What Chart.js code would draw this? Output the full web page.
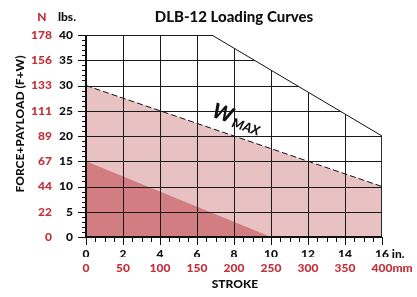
<!DOCTYPE html>
<html>
<head>
<meta charset="utf-8">
<script src="https://cdn.jsdelivr.net/npm/chart.js@4"></script>
<style>
  html, body { margin: 0; padding: 0; background: #fff; }
  #wrap { width: 417px; height: 297px; }
</style>
</head>
<body>
<div id="wrap"><canvas id="loadChart" width="417" height="297"></canvas></div>
<script>
// tick labels
const inchLabels = ['0', '2', '4', '6', '8', '10', '12', '14', '16'];
const mmLabels = ['0', '50', '100', '150', '200', '250', '300', '350', '400'];
const lbsLabels = ['0', '5', '10', '15', '20', '25', '30', '35', '40'];
const newtonLabels = ['0', '22', '44', '67', '89', '111', '133', '156', '178'];

// courbes (course en pouces, charge en lbs)
const forceX = [0, 10];
const forceY = [15, 0];
const wmaxX = [0, 16];
const wmaxY = [30, 10];
const limitX = [0, 6.8, 16, 16];
const limitY = [40, 40, 20, 0];

const RED = '#c3303a';
const INK = '#111';
const FONT = 'Lato';
const W8 = '900';

Chart.defaults.font.family = FONT;

const pts = (xs, ys) => xs.map((x, i) => ({ x: x, y: ys[i] }));

// grille limitée à l'enveloppe + axes, ticks et textes
const decorPlugin = {
  id: 'decor',
  afterDatasetsDraw(chart) {
    const ctx = chart.ctx;
    const xs = chart.scales.x, ys = chart.scales.y;
    const a = chart.chartArea;
    ctx.save();
    ctx.beginPath();
    ctx.moveTo(xs.getPixelForValue(0), ys.getPixelForValue(0));
    limitX.forEach((x, i) => ctx.lineTo(xs.getPixelForValue(x), ys.getPixelForValue(limitY[i])));
    ctx.closePath();
    ctx.clip();
    ctx.strokeStyle = '#1a1a1a';
    ctx.lineWidth = 1;
    ctx.beginPath();
    xs.ticks.forEach(t => {
      const px = Math.round(xs.getPixelForValue(t.value)) + 0.5;
      ctx.moveTo(px, a.top);
      ctx.lineTo(px, a.bottom);
    });
    ys.ticks.forEach(t => {
      const py = Math.round(ys.getPixelForValue(t.value)) + 0.5;
      ctx.moveTo(a.left, py);
      ctx.lineTo(a.right, py);
    });
    ctx.stroke();
    ctx.restore();
  },
  afterDraw(chart) {
    const ctx = chart.ctx;
    const xs = chart.scales.x, ys = chart.scales.y;
    const a = chart.chartArea;
    ctx.save();
    // axes
    ctx.strokeStyle = INK;
    ctx.lineWidth = 2;
    ctx.beginPath();
    ctx.moveTo(a.left, ys.getPixelForValue(40));
    ctx.lineTo(a.left, a.bottom);
    ctx.lineTo(xs.getPixelForValue(16), a.bottom);
    ctx.stroke();
    // petits ticks
    ctx.lineWidth = 1;
    ctx.beginPath();
    for (let v = 0; v <= 40; v++) {
      const py = Math.round(ys.getPixelForValue(v)) + 0.5;
      const len = v % 5 === 0 ? 8 : 4;
      ctx.moveTo(a.left - len, py);
      ctx.lineTo(a.left, py);
    }
    for (let v = 0; v <= 16; v += 0.5) {
      const px = Math.round(xs.getPixelForValue(v)) + 0.5;
      const len = v % 2 === 0 ? 8 : 5;
      ctx.moveTo(px, a.bottom);
      ctx.lineTo(px, a.bottom + len);
    }
    ctx.stroke();

    // titre
    ctx.textBaseline = 'middle';
    ctx.textAlign = 'center';
    ctx.fillStyle = INK;
    ctx.font = W8 + ' 15px ' + FONT;
    ctx.fillText('DLB-12 Loading Curves', (a.left + a.right) / 2, 17);

    // en-têtes d'unités
    ctx.font = W8 + ' 12px ' + FONT;
    ctx.fillStyle = RED;
    ctx.fillText('N', 42, 17);
    ctx.fillStyle = INK;
    ctx.fillText('lbs.', 67, 17);

    // suffixes sous l'axe x
    const x16 = xs.getPixelForValue(16);
    ctx.textAlign = 'left';
    ctx.fillStyle = INK;
    ctx.fillText(' in.', x16 + ctx.measureText('16').width / 2, a.bottom + 17);
    ctx.fillStyle = RED;
    ctx.fillText('mm', x16 + ctx.measureText('400').width / 2, a.bottom + 31);

    // titres d'axes
    ctx.fillStyle = INK;
    ctx.textAlign = 'center';
    ctx.fillText('STROKE', (a.left + a.right) / 2 + 1, 284);
    ctx.translate(20, 124);
    ctx.rotate(-Math.PI / 2);
    ctx.fillText('FORCE+PAYLOAD (F+W)', 0, 0);
    ctx.restore();

    // étiquette W MAX le long de la ligne pointillée
    ctx.save();
    const x0 = xs.getPixelForValue(wmaxX[0]), y0 = ys.getPixelForValue(wmaxY[0]);
    const x1 = xs.getPixelForValue(wmaxX[1]), y1 = ys.getPixelForValue(wmaxY[1]);
    const ang = Math.atan2(y1 - y0, x1 - x0);
    const ax = xs.getPixelForValue(6.55);
    const ay = y0 + (ax - x0) * (y1 - y0) / (x1 - x0);
    ctx.translate(ax, ay);
    ctx.rotate(ang);
    ctx.fillStyle = INK;
    ctx.textAlign = 'left';
    ctx.textBaseline = 'alphabetic';
    ctx.font = 'italic ' + W8 + ' 21px ' + FONT;
    ctx.fillText('W', 0, -11);
    const ww = ctx.measureText('W').width;
    ctx.font = 'italic ' + W8 + ' 13px ' + FONT;
    ctx.fillText('MAX', ww + 2, -8);
    ctx.restore();
  }
};

new Chart(document.getElementById('loadChart'), {
  type: 'line',
  data: {
    datasets: [
      {
        label: 'Force',
        data: pts(forceX, forceY),
        borderWidth: 0,
        backgroundColor: '#d27d82',
        fill: 'origin',
        pointRadius: 0,
        order: 1
      },
      {
        label: 'W max',
        data: pts(wmaxX, wmaxY),
        borderColor: INK,
        borderWidth: 1,
        borderDash: [6, 3],
        backgroundColor: '#e8c1c3',
        fill: 'origin',
        pointRadius: 0,
        order: 2
      },
      {
        label: 'Limite',
        data: pts(limitX, limitY),
        borderColor: INK,
        borderWidth: 1,
        fill: false,
        pointRadius: 0,
        order: 0
      }
    ]
  },
  options: {
    responsive: false,
    animation: false,
    layout: { padding: { left: 0, right: 35, top: 35, bottom: 0 } },
    plugins: {
      legend: { display: false },
      tooltip: { enabled: false },
      title: { display: false }
    },
    scales: {
      x: {
        type: 'linear',
        position: 'bottom',
        weight: 0,
        min: 0, max: 16,
        border: { display: false },
        grid: { display: false, drawTicks: false },
        ticks: {
          stepSize: 2,
          padding: 10,
          color: INK,
          maxRotation: 0,
          font: { size: 12, weight: W8 },
          callback: (v, i) => inchLabels[i]
        },
        afterFit: s => { s.height = 20; }
      },
      x2: {
        type: 'linear',
        position: 'bottom',
        weight: 1,
        min: 0, max: 16,
        border: { display: false },
        grid: { display: false, drawTicks: false },
        ticks: {
          stepSize: 2,
          padding: 4,
          color: RED,
          maxRotation: 0,
          font: { size: 12, weight: W8 },
          callback: (v, i) => mmLabels[i]
        },
        afterFit: s => { s.height = 40; }
      },
      y: {
        type: 'linear',
        position: 'left',
        weight: 0,
        min: 0, max: 40,
        border: { display: false },
        grid: { display: false, drawTicks: false },
        ticks: {
          stepSize: 5,
          padding: 13,
          color: INK,
          font: { size: 12, weight: W8 },
          callback: (v, i) => lbsLabels[i]
        },
        afterFit: s => { s.width = 30; }
      },
      yN: {
        type: 'linear',
        position: 'left',
        weight: 1,
        min: 0, max: 40,
        border: { display: false },
        grid: { display: false, drawTicks: false },
        ticks: {
          stepSize: 5,
          padding: 4,
          color: RED,
          font: { size: 12, weight: W8 },
          callback: (v, i) => newtonLabels[i]
        },
        afterFit: s => { s.width = 56; }
      }
    }
  },
  plugins: [decorPlugin]
});
</script>
</body>
</html>
